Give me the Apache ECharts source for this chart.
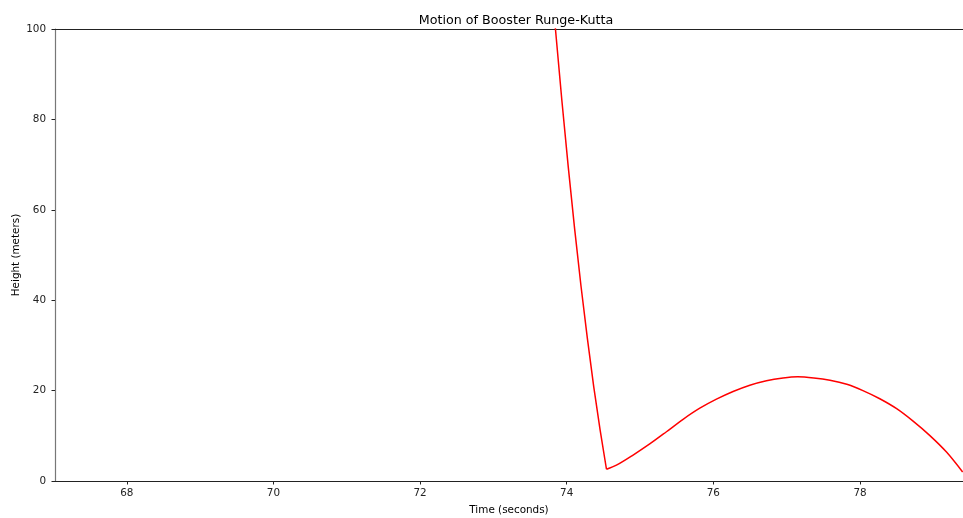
<!DOCTYPE html>
<html>
<head>
<meta charset="utf-8">
<script src="https://cdn.jsdelivr.net/npm/echarts@6/dist/echarts.min.js"></script>
<style>html,body{margin:0;padding:0;background:#fff}#c{width:963px;height:518px}</style>
</head>
<body>
<div id="c"></div>
<script>
// descent until touchdown
const fallTime = [73.75, 73.846, 73.933, 74.02, 74.107, 74.194, 74.281, 74.368, 74.455, 74.542];
const fallHeight = [118, 100, 84.3, 69.6, 55.9, 43.2, 31.6, 20.9, 11.3, 2.6];
// bounce after touchdown
const bounceTime = [74.542, 74.678, 74.905, 75.132, 75.36, 75.587, 75.815, 76.042, 76.269, 76.497,
  76.724, 76.951, 77.15, 77.37, 77.59, 77.82, 78.04, 78.27, 78.50, 78.72, 78.95, 79.18, 79.40];
const bounceHeight = [2.6, 3.5, 5.75, 8.2, 10.9, 13.65, 16.1, 18.1, 19.8, 21.2,
  22.2, 22.8, 23.05, 22.8, 22.3, 21.4, 20.0, 18.2, 16.0, 13.3, 10.1, 6.4, 2.0];
const xTicks = [68, 70, 72, 74, 76, 78];
const yTicks = [0, 20, 40, 60, 80, 100];
const xRange = [67.02, 79.405];

const font = 'DejaVu Sans';
const lineStyle = {color: '#ff0000', width: 1.5};
const chart = echarts.init(document.getElementById('c'), null, {renderer: 'canvas'});
chart.setOption({
  animation: false,
  backgroundColor: '#fff',
  title: {text: 'Motion of Booster Runge-Kutta', left: 511, top: 9, textAlign: 'center',
    textStyle: {fontFamily: font, fontSize: 12.7, fontWeight: 'normal', color: '#000'}},
  grid: {left: 55, right: 0, top: 29, bottom: 37, outerBoundsMode: 'none', containLabel: false},
  xAxis: [{
    type: 'value', min: xRange[0], max: xRange[1],
    name: 'Time (seconds)', nameLocation: 'middle', nameGap: 24, nameMoveOverlap: false,
    nameTextStyle: {fontFamily: font, fontSize: 10.4, color: '#000'},
    axisLine: {show: true, onZero: false, lineStyle: {color: '#222', width: 1}},
    axisTick: {show: true, length: 3.5, lineStyle: {color: '#222'}, customValues: xTicks},
    axisLabel: {fontFamily: font, fontSize: 10.4, color: '#222', margin: 7, customValues: xTicks},
    splitLine: {show: false}
  }, {
    type: 'value', position: 'top', min: xRange[0], max: xRange[1],
    axisLine: {show: true, onZero: false, lineStyle: {color: '#222', width: 1}},
    axisTick: {show: false}, axisLabel: {show: false}, splitLine: {show: false}
  }],
  yAxis: {
    type: 'value', min: 0, max: 100, interval: 20,
    name: 'Height (meters)', nameLocation: 'middle', nameGap: 34, nameMoveOverlap: false,
    nameTextStyle: {fontFamily: font, fontSize: 10.4, color: '#000'},
    axisLine: {show: true, onZero: false, lineStyle: {color: '#777', width: 1.2}},
    axisTick: {show: true, length: 3.5, lineStyle: {color: '#222'}, customValues: yTicks},
    axisLabel: {fontFamily: font, fontSize: 10.4, color: '#222', margin: 9, customValues: yTicks},
    splitLine: {show: false}
  },
  series: [{
    type: 'line', xAxisIndex: 0,
    data: fallTime.map((t, i) => [t, fallHeight[i]]),
    showSymbol: false, smooth: false, clip: true, lineStyle: lineStyle
  }, {
    type: 'line', xAxisIndex: 0,
    data: bounceTime.map((t, i) => [t, bounceHeight[i]]),
    showSymbol: false, smooth: 0.3, clip: true, lineStyle: lineStyle
  }]
});
</script>
</body>
</html>
